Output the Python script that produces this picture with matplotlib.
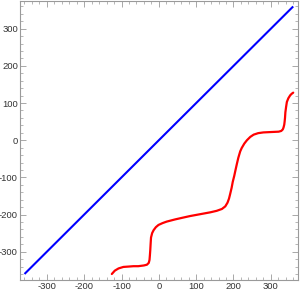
import matplotlib
matplotlib.use("Agg")
import matplotlib.pyplot as plt
from matplotlib.ticker import MultipleLocator

plt.rcParams["font.family"] = ["Liberation Sans", "DejaVu Sans"]

# blue identity line end points
blue_x = [-360, 360]
blue_y = [-360, 360]

# red staircase curve
red_x = [-126, -118, -108, -95, -81, -68, -55, -40, -32, -27, -25, -24, -23, -22,
         -21, -18, -14, -8, -1, 10, 21, 44, 66, 84, 111, 138, 155, 169, 178, 184,
         188, 191, 195, 198, 202, 205, 209, 213, 218, 222, 229, 236, 245, 254, 266,
         280, 300, 321, 328, 332, 334, 336, 337, 338, 339, 341, 343, 347, 352, 356, 360]
red_y = [-360, -351, -345, -341, -340, -339, -339, -337, -335, -330, -322, -310, -296, -278,
         -262, -250, -242, -234, -228, -223, -219, -213, -208, -204, -199, -194, -190, -185, -178, -168,
         -157, -145, -128, -112, -96, -82, -64, -47, -30, -21, -9, 0, 9, 15, 19,
         21, 22, 23, 25, 29, 34, 42, 50, 60, 75, 90, 103, 113, 121, 125, 128]

xticks = [-300, -200, -100, 0, 100, 200, 300]
yticks = [-300, -200, -100, 0, 100, 200, 300]

fig = plt.figure(figsize=(3.0, 2.91), dpi=100)
ax = fig.add_axes([0.0667, 0.038, 0.9256, 0.959])

ax.plot(blue_x, blue_y, color="#0000ff", linewidth=1.5, solid_capstyle="butt")
ax.plot(red_x, red_y, color="#ff0000", linewidth=1.6, solid_capstyle="round")

ax.set_xlim(-372, 372)
ax.set_ylim(-376, 375)
ax.set_xticks(xticks)
ax.set_yticks(yticks)
ax.xaxis.set_minor_locator(MultipleLocator(20))
ax.yaxis.set_minor_locator(MultipleLocator(20))

frame_color = "#9a9a9a"
for spine in ax.spines.values():
    spine.set_color(frame_color)
    spine.set_linewidth(0.8)

ax.tick_params(which="both", direction="in", top=True, right=True,
               color=frame_color, labelsize=6.8, labelcolor="#333333", pad=1.5)
ax.tick_params(which="major", length=4, width=0.6)
ax.tick_params(which="minor", length=2, width=0.5)
ax.set_xticklabels([str(t) for t in xticks])
ax.set_yticklabels([str(t) for t in yticks])

fig.savefig("out.png", dpi=100)
